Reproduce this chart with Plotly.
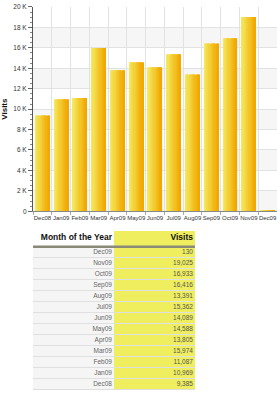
import plotly.graph_objects as go

months = ["Dec08", "Jan09", "Feb09", "Mar09", "Apr09", "May09", "Jun09",
          "Jul09", "Aug09", "Sep09", "Oct09", "Nov09", "Dec09"]
visits = [9385, 10969, 11087, 15974, 13805, 14588, 14089,
          15362, 13391, 16416, 16933, 19025, 130]
tick_vals = [0, 2000, 4000, 6000, 8000, 10000, 12000, 14000, 16000, 18000, 20000]
tick_text = ["0", "2 K", "4 K", "6 K", "8 K", "10 K", "12 K", "14 K", "16 K", "18 K", "20 K"]
table_headers = ["Month of the Year", "Visits"]

FONT = "Liberation Sans, Arial, sans-serif"
W, H = 277, 400

def lerp(c1, c2, t):
    return "#%02x%02x%02x" % tuple(int(round(a + (b - a) * t)) for a, b in zip(c1, c2))

fig = go.Figure()

# ---------- bar chart with gradient bars (narrow slices) ----------
N = 12
total = 0.75
c_left = (0xF4, 0xE8, 0x5C)
c_right = (0xF2, 0xA8, 0x00)
for i in range(N):
    t = i / (N - 1)
    fig.add_trace(go.Bar(
        x=months, y=visits,
        width=total / N + 0.003,
        offset=-total / 2 + i * total / N,
        marker=dict(color=lerp(c_left, c_right, t), line=dict(width=0)),
        xaxis="x", yaxis="y", showlegend=False, hoverinfo="skip",
    ))

# ---------- table drawn as a heatmap on its own axes ----------
tbl_months = months[::-1]
tbl_visits = ["{:,}".format(v) for v in visits[::-1]]
n_rows = len(tbl_months)
HEADER_H = 16.0
ROW_H = (162.0 - HEADER_H) / n_rows
edges = [0.0, HEADER_H] + [HEADER_H + ROW_H * (k + 1) for k in range(n_rows)]
centers = [(edges[k] + edges[k + 1]) / 2 for k in range(n_rows + 1)]

# z: 0 = grey cell, 1 = yellow cell, 2 = white cell
z = [[2, 1]] + [[0, 1] for _ in range(n_rows)]
fig.add_trace(go.Heatmap(
    z=z, x=[0, 1, 2], y=edges,
    zmin=0, zmax=2,
    colorscale=[[0, "#f5f5f5"], [0.5, "#eeee5e"], [1, "#ffffff"]],
    showscale=False, xgap=0, ygap=1, hoverinfo="skip",
    xaxis="x3", yaxis="y3",
))
# header texts
fig.add_trace(go.Scatter(
    x=[0.975, 1.975], y=[centers[0] - 1, centers[0] - 1],
    text=["<b>%s</b>" % h for h in table_headers],
    mode="text", textposition="middle left",
    textfont=dict(family=FONT, size=8.5, color="#111111"),
    xaxis="x3", yaxis="y3", showlegend=False, hoverinfo="skip",
))
# cell texts
fig.add_trace(go.Scatter(
    x=[0.975] * n_rows, y=centers[1:], text=tbl_months,
    mode="text", textposition="middle left",
    textfont=dict(family=FONT, size=6.5, color="#666666"),
    xaxis="x3", yaxis="y3", showlegend=False, hoverinfo="skip",
))
fig.add_trace(go.Scatter(
    x=[1.975] * n_rows, y=centers[1:], text=tbl_visits,
    mode="text", textposition="middle left",
    textfont=dict(family=FONT, size=6.5, color="#555555"),
    xaxis="x3", yaxis="y3", showlegend=False, hoverinfo="skip",
))

# ---------- shapes ----------
shapes = []
for lo in [0, 4000, 8000, 12000, 16000]:
    shapes.append(dict(type="rect", xref="x domain", yref="y", x0=0, x1=1,
                       y0=lo, y1=lo + 2000, fillcolor="#f6f6f6",
                       line=dict(width=0), layer="below"))
# grey background behind table cells so gaps show as separator lines
shapes.append(dict(type="rect", xref="x3", yref="y3", x0=0, x1=2,
                   y0=0, y1=162, fillcolor="#e0e0e0",
                   line=dict(color="#dcdcdc", width=1), layer="below"))
# thick line under header
shapes.append(dict(type="line", xref="x3", yref="y3", x0=0, x1=2,
                   y0=HEADER_H, y1=HEADER_H,
                   line=dict(color="#8a8a78", width=2.5), layer="above"))

fig.update_layout(
    width=W, height=H,
    margin=dict(l=0, r=0, t=0, b=0),
    paper_bgcolor="white", plot_bgcolor="white",
    barmode="overlay",
    shapes=shapes,
    font=dict(family=FONT, size=7, color="#333333"),
    xaxis=dict(
        domain=[33 / W, 1.0],
        type="category",
        tickson="boundaries",
        showgrid=True, gridcolor="#e2e2e2", gridwidth=1,
        ticks="outside", ticklen=3, tickcolor="#aaaaaa",
        showline=True, linecolor="#888888", linewidth=1,
        tickfont=dict(size=6, color="#333333"),
        tickangle=0, ticklabeloverflow="allow",
        range=[-0.5, 12.5],
    ),
    yaxis=dict(
        domain=[1 - 211 / H, 1 - 3 / H],
        range=[0, 20000],
        tickvals=tick_vals, ticktext=tick_text,
        showgrid=True, gridcolor="#e2e2e2", gridwidth=1,
        ticks="outside", ticklen=4, tickcolor="#666666",
        minor=dict(dtick=500, ticks="outside", ticklen=2, tickcolor="#888888", showgrid=False),
        showline=True, linecolor="#555555", linewidth=1,
        tickfont=dict(size=6.5, color="#333333"),
        ticklabeloverflow="allow",
        zeroline=False,
        title=dict(text="<b>Visits</b>", font=dict(size=8, color="#111111"), standoff=4),
    ),
    xaxis3=dict(
        domain=[33 / W, 195 / W], range=[0, 2],
        visible=False, fixedrange=True,
    ),
    yaxis3=dict(
        domain=[1 - 393 / H, 1 - 231 / H], range=[162, 0],
        visible=False, fixedrange=True,
    ),
)

fig.write_html("out.html")
